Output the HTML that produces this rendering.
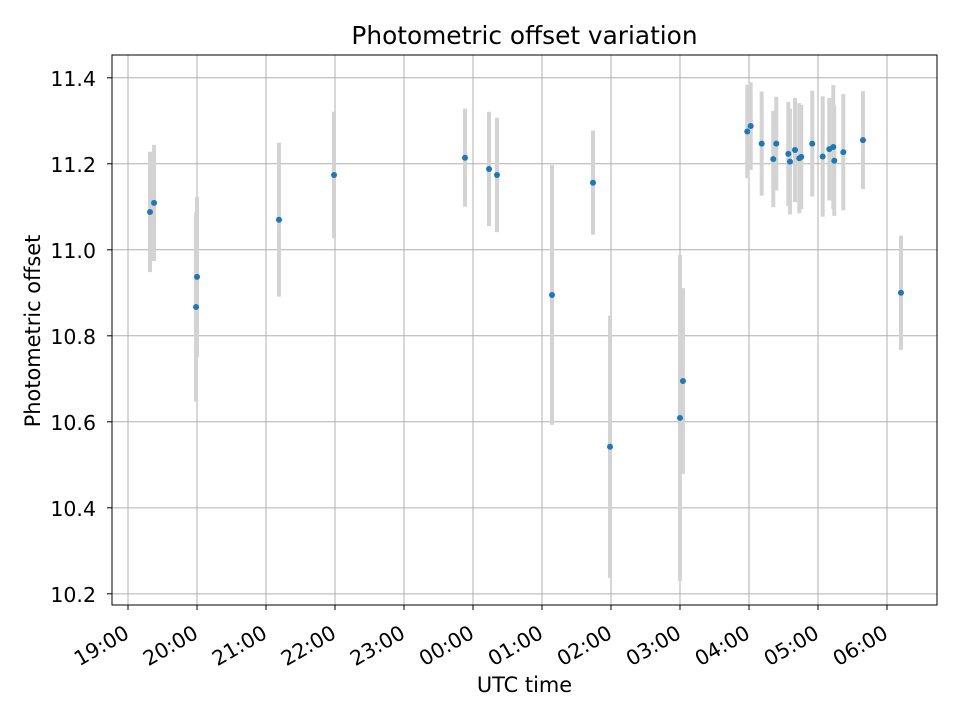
<!DOCTYPE html>
<html><head><meta charset="utf-8"><style>
body{margin:0;background:#fff;}
svg text{font-family:"DejaVu Sans","Liberation Sans",sans-serif;fill:#000;}
</style></head><body>
<svg id="chart" width="960" height="720" xmlns="http://www.w3.org/2000/svg">
<rect x="0" y="0" width="960" height="720" fill="#fff"/>
<g id="grid"></g>
<g id="errbars"></g>
<g id="points"></g>
<rect x="112" y="55" width="825" height="550" fill="none" stroke="#000" stroke-width="1"/>
<g id="xticks"></g>
<g id="yticks"></g>
<text x="524.5" y="44" text-anchor="middle" font-size="24.8">Photometric offset variation</text>
<text x="524.5" y="692" text-anchor="middle" font-size="20.9">UTC time</text>
<text x="40" y="331" text-anchor="middle" font-size="20.9" transform="rotate(-90 40 331)">Photometric offset</text>
</svg>
<script>
// hours since 19:00 UTC
const times = [0.319,0.377,1.0,0.986,2.188,2.986,4.884,5.232,5.348,6.145,6.739,6.986,8.0,8.043,
 8.975,9.025,9.184,9.352,9.396,9.570,9.594,9.667,9.729,9.758,9.917,10.068,10.164,10.222,10.236,10.367,10.652,11.203];
const offsets = [11.088,11.109,10.937,10.867,11.070,11.174,11.214,11.188,11.174,10.895,11.156,10.542,10.609,10.695,
 11.275,11.288,11.247,11.211,11.247,11.223,11.205,11.232,11.213,11.216,11.247,11.217,11.234,11.239,11.207,11.227,11.255,10.900];
const errors = [0.140,0.135,0.186,0.220,0.179,0.147,0.114,0.133,0.133,0.302,0.121,0.305,0.379,0.216,
 0.109,0.102,0.121,0.112,0.109,0.121,0.123,0.121,0.128,0.121,0.123,0.140,0.119,0.144,0.128,0.135,0.114,0.133];
const xTickLabels = ["19:00","20:00","21:00","22:00","23:00","00:00","01:00","02:00","03:00","04:00","05:00","06:00"];
const yTickValues = [10.2,10.4,10.6,10.8,11.0,11.2,11.4];

const L=112,R=937,T=55,B=605, xMin=-0.232,xMax=11.725,yMin=10.174,yMax=11.453;
const sx=h=>L+(h-xMin)/(xMax-xMin)*(R-L);
const sy=v=>B-(v-yMin)/(yMax-yMin)*(B-T);
const NS="http://www.w3.org/2000/svg";
function mk(tag,attrs,parent){const e=document.createElementNS(NS,tag);for(const k in attrs)e.setAttribute(k,attrs[k]);parent.appendChild(e);return e;}
const grid=document.getElementById('grid'),xt=document.getElementById('xticks'),yt=document.getElementById('yticks');
xTickLabels.forEach((lab,i)=>{
  const x=sx(i);
  const g=mk('line',{x1:x,x2:x,y1:T,y2:B,stroke:'#b0b0b0','stroke-width':1},grid);
  
  
  const t=mk('line',{x1:x,x2:x,y1:B,y2:B+5,stroke:'#000','stroke-width':1},xt);
  
  
  const ax=x+2.5, ay=637;
  const tx=mk('text',{x:ax,y:ay,'text-anchor':'end','font-size':20.5,transform:`rotate(-30 ${ax} ${ay})`},xt);
  tx.textContent=lab;
  
  
});
yTickValues.forEach(v=>{
  const y=sy(v);
  const g=mk('line',{x1:L,x2:R,y1:y,y2:y,stroke:'#b0b0b0','stroke-width':1},grid);
  
  
  const t=mk('line',{x1:L-5,x2:L,y1:y,y2:y,stroke:'#000','stroke-width':1},yt);
  
  
  const tx=mk('text',{x:96,y:y+8,'text-anchor':'end','font-size':20.5},yt);
  tx.textContent=v.toFixed(1);
  
  
});
const eb=document.getElementById('errbars'),pts=document.getElementById('points');
times.forEach((h,i)=>{
  const x=sx(h);
  const b=mk('line',{x1:x,x2:x,y1:sy(offsets[i]+errors[i]),y2:sy(offsets[i]-errors[i]),stroke:'#d3d3d3','stroke-width':4},eb);
  
  
});
times.forEach((h,i)=>{
  const c=mk('circle',{cx:sx(h),cy:sy(offsets[i]),r:3,fill:'#1f77b4'},pts);
  
  
});
</script>
</body></html>
